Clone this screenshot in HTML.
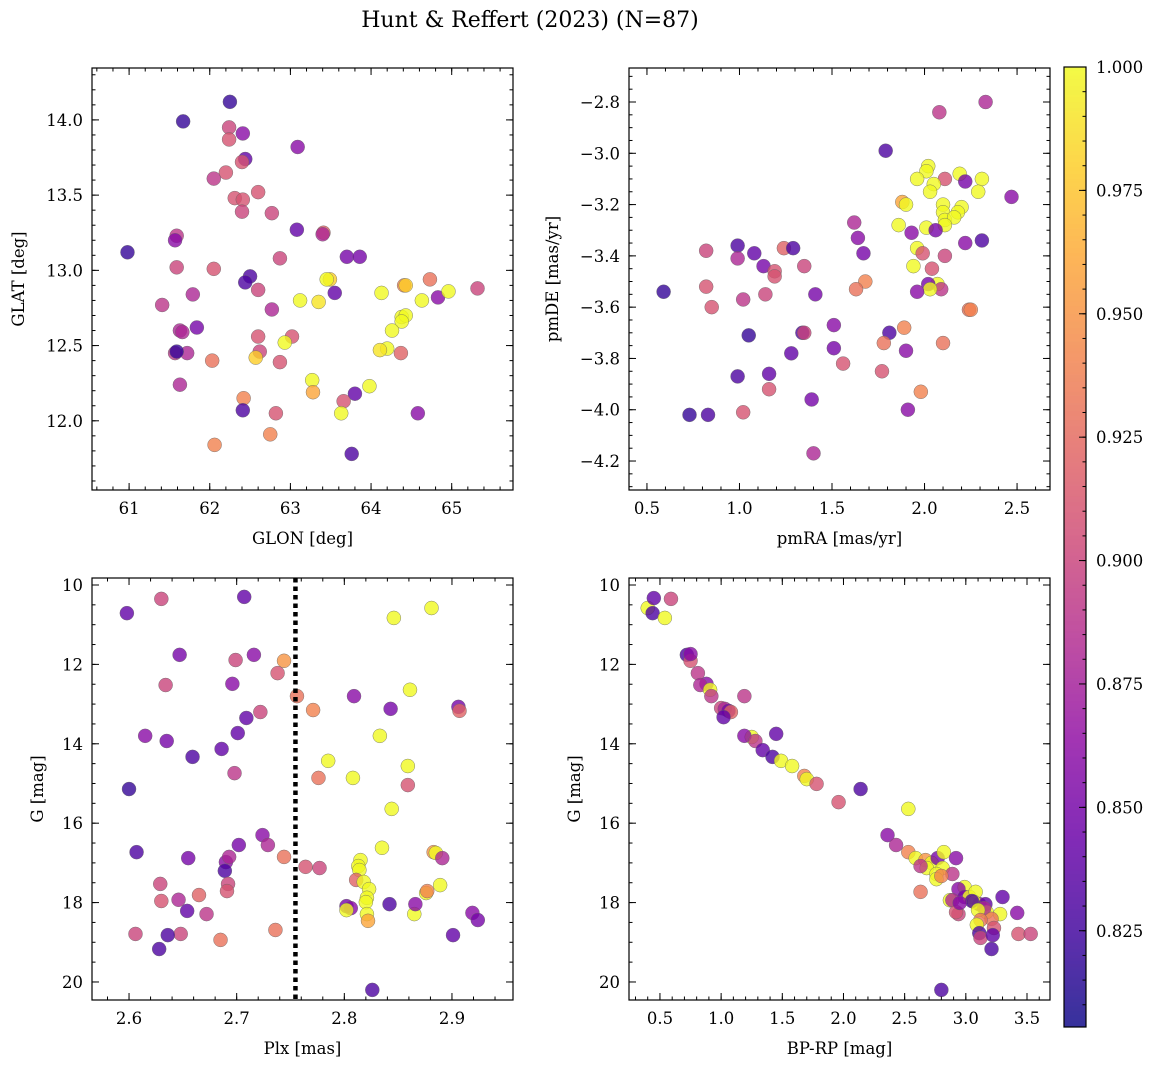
<!DOCTYPE html>
<html><head><meta charset="utf-8"><style>
html,body{margin:0;padding:0;background:#fff}
svg text{font-family:"DejaVu Serif","Liberation Serif",serif;fill:#000}
</style></head><body>
<svg id="fig" width="1161" height="1067" viewBox="0 0 1161 1067" xmlns="http://www.w3.org/2000/svg">
<text x="530" y="27" font-size="22" text-anchor="middle">Hunt &amp; Reffert (2023) (N=87)</text>
</svg>
<script>
// ---- Panel 1: GLON vs GLAT ----
const glonA=[62.25,61.67,62.24,62.41,62.24,63.09,62.44,62.40,62.20,62.05,62.60,62.31,62.41,62.40,62.77,63.08,63.41,63.40,61.59,61.57,60.98,63.70,63.86,61.59,62.05,62.50,62.87,62.44,62.60,63.49,63.45,64.73,64.41,64.43,64.13,63.55,61.79,61.41,63.12,63.35,64.63,64.83,64.96,65.32,62.77,64.38,64.43,64.38,61.84,61.63,61.66,64.26,62.60,63.02,62.93,64.20,64.11,61.57,61.72,61.59,64.37,62.62,62.87,62.03,62.57,61.63,63.27,63.28,63.80,63.98,62.42,63.66,63.63,62.41,62.82,64.58,62.75,62.06,63.76];
const glatA=[14.12,13.99,13.95,13.91,13.87,13.82,13.74,13.72,13.65,13.61,13.52,13.48,13.47,13.39,13.38,13.27,13.25,13.24,13.23,13.20,13.12,13.09,13.09,13.02,13.01,12.96,13.08,12.92,12.87,12.94,12.94,12.94,12.90,12.90,12.85,12.85,12.84,12.77,12.80,12.79,12.80,12.82,12.86,12.88,12.74,12.69,12.70,12.66,12.62,12.60,12.59,12.60,12.56,12.56,12.52,12.48,12.47,12.45,12.45,12.46,12.45,12.46,12.39,12.40,12.42,12.24,12.27,12.19,12.18,12.23,12.15,12.13,12.05,12.07,12.05,12.05,11.91,11.84,11.78];
const probA=[0.82,0.82,0.90,0.86,0.91,0.86,0.84,0.91,0.91,0.89,0.91,0.91,0.91,0.90,0.90,0.84,0.92,0.88,0.89,0.86,0.82,0.85,0.85,0.90,0.91,0.83,0.90,0.83,0.90,0.98,1.0,0.93,0.94,0.98,1.0,0.84,0.88,0.89,1.0,0.99,1.0,0.86,1.0,0.90,0.88,1.0,1.0,1.0,0.85,0.88,0.88,1.0,0.91,0.91,1.0,1.0,0.99,0.89,0.88,0.82,0.92,0.90,0.91,0.93,0.98,0.88,1.0,0.96,0.84,1.0,0.94,0.91,1.0,0.83,0.91,0.86,0.94,0.94,0.83];
// ---- Panel 2: pmRA vs pmDE ----
const pmraB=[2.33,2.08,1.79,2.02,2.01,2.19,2.11,2.22,2.31,1.96,2.05,2.03,2.29,1.88,1.90,2.10,2.20,2.47,2.18,2.10,2.11,2.16,2.11,1.86,2.01,2.06,1.93,1.62,1.64,2.22,2.31,1.96,1.99,2.11,1.67,0.82,0.99,1.08,1.24,1.29,0.99,1.13,1.19,1.19,1.35,2.04,1.94,1.68,1.63,2.07,2.09,2.02,2.03,1.96,0.59,0.82,1.41,1.14,1.02,0.85,2.24,2.25,1.51,1.34,1.35,1.05,1.81,1.89,1.78,2.10,1.90,1.51,1.28,1.56,1.77,1.16,0.99,1.16,1.98,1.39,1.91,1.02,0.73,0.83,1.40];
const pmdeB=[-2.80,-2.84,-2.99,-3.05,-3.07,-3.08,-3.10,-3.11,-3.10,-3.10,-3.12,-3.15,-3.15,-3.19,-3.20,-3.20,-3.21,-3.17,-3.23,-3.23,-3.26,-3.25,-3.28,-3.28,-3.29,-3.30,-3.31,-3.27,-3.33,-3.35,-3.34,-3.37,-3.39,-3.40,-3.39,-3.38,-3.36,-3.39,-3.37,-3.37,-3.41,-3.44,-3.46,-3.48,-3.44,-3.45,-3.44,-3.50,-3.53,-3.51,-3.53,-3.51,-3.53,-3.54,-3.54,-3.52,-3.55,-3.55,-3.57,-3.60,-3.61,-3.61,-3.67,-3.70,-3.70,-3.71,-3.70,-3.68,-3.74,-3.74,-3.77,-3.76,-3.78,-3.82,-3.85,-3.86,-3.87,-3.92,-3.93,-3.96,-4.00,-4.01,-4.02,-4.02,-4.17];
const probB=[0.88,0.89,0.83,1.0,1.0,1.0,0.91,0.85,1.0,1.0,1.0,1.0,1.0,0.96,1.0,1.0,1.0,0.86,1.0,1.0,1.0,1.0,1.0,1.0,1.0,0.85,0.86,0.88,0.86,0.86,0.83,1.0,0.91,0.90,0.85,0.90,0.83,0.84,0.92,0.83,0.88,0.85,0.91,0.91,0.90,0.91,1.0,0.94,0.93,1.0,0.89,0.85,1.0,0.86,0.82,0.91,0.85,0.90,0.89,0.91,0.93,0.94,0.86,0.83,0.90,0.82,0.83,0.94,0.93,0.93,0.86,0.85,0.84,0.91,0.91,0.84,0.83,0.91,0.94,0.85,0.86,0.91,0.82,0.83,0.88];
// ---- Panel 3: Plx vs G ----
const plxC=[2.598,2.630,2.707,2.881,2.846,2.647,2.716,2.744,2.738,2.699,2.634,2.696,2.756,2.809,2.861,2.906,2.907,2.771,2.843,2.722,2.709,2.615,2.635,2.833,2.701,2.686,2.659,2.785,2.776,2.808,2.600,2.698,2.859,2.859,2.844,2.724,2.702,2.607,2.655,2.835,2.729,2.744,2.764,2.777,2.883,2.885,2.891,2.690,2.815,2.813,2.814,2.693,2.689,2.629,2.692,2.889,2.811,2.646,2.630,2.691,2.665,2.654,2.672,2.818,2.823,2.802,2.806,2.821,2.820,2.842,2.821,2.802,2.865,2.866,2.876,2.877,2.919,2.924,2.822,2.736,2.685,2.606,2.648,2.636,2.628,2.901,2.826];
const gC=[10.71,10.35,10.30,10.58,10.83,11.76,11.76,11.91,12.22,11.89,12.52,12.49,12.80,12.80,12.64,13.07,13.17,13.15,13.12,13.20,13.35,13.80,13.93,13.80,13.73,14.13,14.33,14.43,14.86,14.86,15.14,14.74,14.56,15.04,15.64,16.30,16.55,16.73,16.88,16.62,16.55,16.85,17.10,17.13,16.73,16.75,16.88,16.98,16.93,17.08,17.18,16.85,17.20,17.53,17.53,17.56,17.43,17.93,17.96,17.71,17.81,18.21,18.29,17.48,17.66,18.09,18.14,17.88,17.99,18.04,18.29,18.19,18.29,18.04,17.76,17.71,18.26,18.44,18.46,18.69,18.94,18.79,18.79,18.82,19.17,18.82,20.20];
const probC=[0.84,0.90,0.84,1.0,1.0,0.85,0.86,0.95,0.91,0.90,0.90,0.86,0.93,0.86,1.0,0.85,0.92,0.94,0.85,0.90,0.84,0.86,0.85,1.0,0.84,0.84,0.83,1.0,0.93,1.0,0.82,0.89,1.0,0.91,1.0,0.86,0.85,0.83,0.85,1.0,0.88,0.93,0.91,0.90,0.95,1.0,0.88,0.86,1.0,1.0,1.0,0.88,0.83,0.90,0.90,1.0,0.92,0.88,0.91,0.91,0.92,0.84,0.89,1.0,1.0,0.85,0.86,1.0,1.0,0.83,1.0,1.0,1.0,0.86,1.0,0.94,0.86,0.85,0.96,0.93,0.93,0.90,0.90,0.83,0.83,0.84,0.83];
// ---- Panel 4: BP-RP vs G ----
const bprpD=[0.40,0.44,0.45,0.59,0.54,0.72,0.75,0.75,0.81,0.88,0.83,0.91,0.92,1.00,1.03,1.06,1.08,1.02,1.19,1.25,1.19,1.28,1.34,1.45,1.42,1.49,1.58,1.68,1.70,1.78,1.96,2.14,2.53,2.36,2.43,2.53,2.59,2.67,2.72,2.68,2.63,2.77,2.82,2.92,2.81,2.76,2.76,2.89,2.80,2.63,2.87,2.99,2.94,2.99,3.03,3.08,3.11,3.07,3.05,3.16,3.17,3.15,2.89,2.94,2.92,3.10,2.95,3.30,3.28,3.21,3.12,3.09,3.23,3.11,3.12,3.22,3.42,3.43,3.53,3.21,2.80];
const gD=[10.58,10.71,10.33,10.35,10.83,11.76,11.91,11.74,12.22,12.49,12.52,12.64,12.80,13.10,13.12,13.17,13.20,13.33,12.80,13.83,13.80,13.93,14.16,13.75,14.33,14.43,14.56,14.81,14.89,15.01,15.47,15.14,15.64,16.30,16.55,16.73,16.88,16.93,17.00,17.13,17.08,16.88,16.73,16.88,17.13,17.28,17.41,17.28,17.33,17.73,17.94,17.61,17.66,17.86,17.86,17.73,18.04,17.99,17.96,18.04,18.24,18.14,17.94,18.29,18.24,18.19,18.01,17.86,18.29,18.41,18.44,18.56,18.64,18.77,18.89,18.82,18.26,18.79,18.79,19.17,20.20];
const probD=[1.0,0.83,0.84,0.90,1.0,0.83,0.91,0.86,0.89,0.86,0.88,1.0,0.89,0.90,0.88,0.85,0.92,0.84,0.89,1.0,0.86,0.89,0.84,0.84,0.83,1.0,1.0,0.94,1.0,0.91,0.91,0.83,1.0,0.86,0.88,0.94,1.0,0.95,1.0,1.0,0.89,0.85,1.0,0.86,1.0,1.0,1.0,0.89,0.94,0.93,1.0,1.0,0.86,0.85,1.0,1.0,0.86,1.0,0.83,0.84,1.0,0.88,0.88,0.90,0.91,1.0,0.86,0.84,1.0,0.93,0.93,1.0,0.91,0.83,0.90,0.84,0.86,0.91,0.90,0.83,0.83];
const plxCut=2.7546;
const cbTicks=[0.825,0.850,0.875,0.900,0.925,0.950,0.975,1.000];
const VMIN=0.8055, VMAX=1.0;

const NS="http://www.w3.org/2000/svg";
const svg=document.getElementById('fig');
function mk(tag,attrs,parent){const e=document.createElementNS(NS,tag);for(const k in attrs)e.setAttribute(k,attrs[k]);(parent||svg).appendChild(e);return e;}
const stops=[[13,8,135],[65,4,157],[106,0,168],[143,13,164],[177,42,144],[204,71,120],[225,100,98],[242,132,75],[252,166,54],[252,206,37],[240,249,33]];
function plasma(t){t=Math.max(0,Math.min(1,t));const s=t*10,i=Math.min(9,Math.floor(s)),f=s-i;const a=stops[i],b=stops[i+1];return 'rgb('+a.map((v,k)=>Math.round(v+(b[k]-v)*f)).join(',')+')';}
function cnorm(v){return (v-VMIN)/(VMAX-VMIN);}
function fmt(v,d){const s=Math.abs(v).toFixed(d);return (v<-1e-9?'−':'')+s;}

function panel(p){
  const g=mk('g',{});
  
  
  const sx=v=>p.x0+(v-p.xmin)/(p.xmax-p.xmin)*(p.x1-p.x0);
  const sy=v=>p.y1-(v-p.ymin)/(p.ymax-p.ymin)*(p.y1-p.y0);
  const pg=mk('g',{},g);
  
  
  for(let i=0;i<p.xs.length;i++){
    const c=mk('circle',{cx:sx(p.xs[i]),cy:sy(p.ys[i]),r:7,fill:plasma(cnorm(p.cs[i])),'fill-opacity':0.8,stroke:'#666','stroke-width':0.5,'stroke-opacity':0.8},pg);
    
    
  }
  if(p.extra)p.extra(g,sx,sy);
  const fr=mk('rect',{x:p.x0,y:p.y0,width:p.x1-p.x0,height:p.y1-p.y0,fill:'none',stroke:'#000','stroke-width':1.2},g);
  
  
  const tk=mk('g',{stroke:'#000','stroke-width':1},g);
  const eps=1e-9;
  function ticksX(step,len){const st=Math.ceil(p.xmin/step-eps);for(let k=st;k*step<=p.xmax+eps;k++){const X=sx(k*step);mk('line',{x1:X,x2:X,y1:p.y1,y2:p.y1-len},tk);mk('line',{x1:X,x2:X,y1:p.y0,y2:p.y0+len},tk);}}
  function ticksY(step,len){const st=Math.ceil(Math.min(p.ymin,p.ymax)/step-eps);for(let k=st;k*step<=Math.max(p.ymin,p.ymax)+eps;k++){const Y=sy(k*step);mk('line',{x1:p.x0,x2:p.x0+len,y1:Y,y2:Y},tk);mk('line',{x1:p.x1,x2:p.x1-len,y1:Y,y2:Y},tk);}}
  ticksX(p.xmaj,7);ticksX(p.xmin_,3.5);ticksY(p.ymaj,7);ticksY(p.ymin_,3.5);
  let st=Math.ceil(p.xmin/p.xmaj-eps);
  for(let k=st;k*p.xmaj<=p.xmax+eps;k++){const v=k*p.xmaj;const t=mk('text',{x:sx(v),y:p.y1+24,'font-size':16.5,'text-anchor':'middle'},g);t.textContent=fmt(v,p.xd);}
  const lo=Math.min(p.ymin,p.ymax),hi=Math.max(p.ymin,p.ymax);
  st=Math.ceil(lo/p.ymaj-eps);
  for(let k=st;k*p.ymaj<=hi+eps;k++){const v=k*p.ymaj;const t=mk('text',{x:p.x0-9,y:sy(v)+6,'font-size':16.5,'text-anchor':'end'},g);t.textContent=fmt(v,p.yd);}
  const xl=mk('text',{x:(p.x0+p.x1)/2,y:p.y1+54,'font-size':16.5,'text-anchor':'middle'},g);xl.textContent=p.xlabel;
  
  const yl=mk('text',{x:0,y:0,'font-size':16.5,'text-anchor':'middle',transform:'translate('+p.ylx+','+(p.y0+p.y1)/2+') rotate(-90)'},g);yl.textContent=p.ylabel;
  
}

panel({name:'glon-glat-panel',x0:92,x1:513,y0:68,y1:490,xmin:60.54,xmax:65.76,ymin:11.54,ymax:14.345,xmaj:1,xmin_:0.2,ymaj:0.5,ymin_:0.1,xd:0,yd:1,xs:glonA,ys:glatA,cs:probA,xlabel:'GLON [deg]',ylabel:'GLAT [deg]',ylx:24});
panel({name:'proper-motion-panel',x0:629,x1:1050,y0:68,y1:490,xmin:0.403,xmax:2.678,ymin:-4.313,ymax:-2.6674,xmaj:0.5,xmin_:0.1,ymaj:0.2,ymin_:0.05,xd:1,yd:1,xs:pmraB,ys:pmdeB,cs:probB,xlabel:'pmRA [mas/yr]',ylabel:'pmDE [mas/yr]',ylx:558});
panel({name:'plx-g-panel',x0:92,x1:513,y0:578,y1:1000,xmin:2.5656,xmax:2.9567,ymin:20.454,ymax:9.824,xmaj:0.1,xmin_:0.02,ymaj:2,ymin_:0.5,xd:1,yd:0,xs:plxC,ys:gC,cs:probC,xlabel:'Plx [mas]',ylabel:'G [mag]',ylx:43,
  extra:(g,sx,sy)=>{const l=mk('line',{x1:sx(plxCut),x2:sx(plxCut),y1:578,y2:1000,stroke:'#000','stroke-width':4.5,'stroke-dasharray':'4.5 4'},g);}});
panel({name:'cmd-panel',x0:629,x1:1050,y0:578,y1:1000,xmin:0.247,xmax:3.688,ymin:20.454,ymax:9.824,xmaj:0.5,xmin_:0.1,ymaj:2,ymin_:0.5,xd:1,yd:0,xs:bprpD,ys:gD,cs:probD,xlabel:'BP-RP [mag]',ylabel:'G [mag]',ylx:580});

(function(){
  const x0=1064,x1=1086,y0=67,y1=1027;
  const cb=mk('g',{});
  
  
  const sy=v=>y1-(v-VMIN)/(VMAX-VMIN)*(y1-y0);
  for(let py=y0;py<y1;py++){mk('rect',{x:x0,y:py,width:x1-x0,height:1.2,fill:plasma((y1-py-0.5)/(y1-y0)),'fill-opacity':0.8},cb);}
  mk('rect',{x:x0,y:y0,width:x1-x0,height:y1-y0,fill:'none',stroke:'#000','stroke-width':1.2},cb);
  for(let k=Math.ceil(VMIN/0.005-1e-9);k*0.005<=VMAX+1e-9;k++){const Y=sy(k*0.005);mk('line',{x1:x1,x2:x1-3.5,y1:Y,y2:Y,stroke:'#000','stroke-width':1},cb);}
  cbTicks.forEach(v=>{const Y=sy(v);mk('line',{x1:x1,x2:x1-7,y1:Y,y2:Y,stroke:'#000','stroke-width':1},cb);
    const t=mk('text',{x:x1+10,y:Y+6,'font-size':16.5},cb);t.textContent=v.toFixed(3);});
})();
</script>
</body></html>
